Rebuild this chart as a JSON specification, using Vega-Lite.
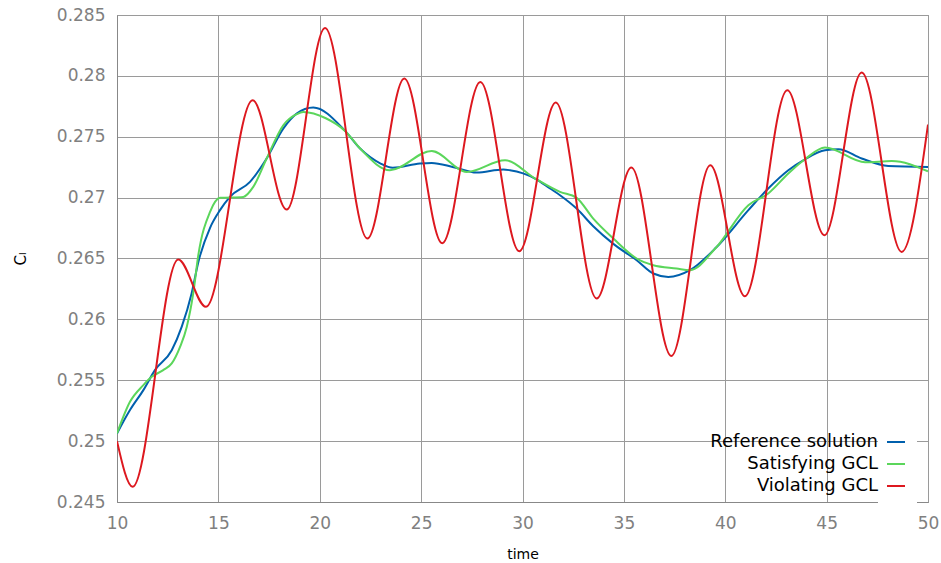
{
  "$schema": "https://vega.github.io/schema/vega-lite/v6.json",
  "autosize": {"type": "none"},
  "padding": {"left": 117, "top": 15, "right": 13, "bottom": 61},
  "width": 811,
  "height": 487,
  "background": "white",
  "config": {
    "font": "DejaVu Sans",
    "view": {"stroke": "#888888", "strokeWidth": 1},
    "axis": {
      "labelFont": "DejaVu Sans",
      "labelFontSize": 17,
      "labelColor": "#808080",
      "domainColor": "#888888",
      "gridColor": "#9a9a9a",
      "gridWidth": 1,
      "ticks": false,
      "titleFont": "DejaVu Sans",
      "titleFontWeight": "normal",
      "titleColor": "#000000",
      "titleFontSize": 14
    }
  },
  "data": {
    "values": [
      {"t": 10, "v": 0.25063, "s": "Reference solution"},
      {"t": 10.64, "v": 0.25255, "s": "Reference solution"},
      {"t": 11.3, "v": 0.25419, "s": "Reference solution"},
      {"t": 11.87, "v": 0.25583, "s": "Reference solution"},
      {"t": 12.7, "v": 0.25747, "s": "Reference solution"},
      {"t": 13.19, "v": 0.25938, "s": "Reference solution"},
      {"t": 13.68, "v": 0.26213, "s": "Reference solution"},
      {"t": 14.01, "v": 0.2647, "s": "Reference solution"},
      {"t": 14.59, "v": 0.26752, "s": "Reference solution"},
      {"t": 15.08, "v": 0.26897, "s": "Reference solution"},
      {"t": 15.57, "v": 0.27006, "s": "Reference solution"},
      {"t": 16.56, "v": 0.27129, "s": "Reference solution"},
      {"t": 17.38, "v": 0.27321, "s": "Reference solution"},
      {"t": 18.2, "v": 0.27567, "s": "Reference solution"},
      {"t": 18.86, "v": 0.2769, "s": "Reference solution"},
      {"t": 19.68, "v": 0.2774, "s": "Reference solution"},
      {"t": 21.25, "v": 0.27548, "s": "Reference solution"},
      {"t": 21.99, "v": 0.27403, "s": "Reference solution"},
      {"t": 23.0, "v": 0.2728, "s": "Reference solution"},
      {"t": 23.6, "v": 0.27245, "s": "Reference solution"},
      {"t": 24.94, "v": 0.2728, "s": "Reference solution"},
      {"t": 25.52, "v": 0.27285, "s": "Reference solution"},
      {"t": 26.6, "v": 0.2725, "s": "Reference solution"},
      {"t": 27.74, "v": 0.27206, "s": "Reference solution"},
      {"t": 29.05, "v": 0.27231, "s": "Reference solution"},
      {"t": 29.38, "v": 0.27225, "s": "Reference solution"},
      {"t": 30.62, "v": 0.27157, "s": "Reference solution"},
      {"t": 31.36, "v": 0.27075, "s": "Reference solution"},
      {"t": 31.85, "v": 0.2702, "s": "Reference solution"},
      {"t": 32.67, "v": 0.2691, "s": "Reference solution"},
      {"t": 33.49, "v": 0.26765, "s": "Reference solution"},
      {"t": 34.48, "v": 0.2662, "s": "Reference solution"},
      {"t": 35.63, "v": 0.26486, "s": "Reference solution"},
      {"t": 36.45, "v": 0.26377, "s": "Reference solution"},
      {"t": 37.19, "v": 0.26349, "s": "Reference solution"},
      {"t": 38.26, "v": 0.26404, "s": "Reference solution"},
      {"t": 39.55, "v": 0.2659, "s": "Reference solution"},
      {"t": 41.14, "v": 0.26897, "s": "Reference solution"},
      {"t": 42.12, "v": 0.27075, "s": "Reference solution"},
      {"t": 43.11, "v": 0.27225, "s": "Reference solution"},
      {"t": 43.93, "v": 0.27315, "s": "Reference solution"},
      {"t": 44.92, "v": 0.27389, "s": "Reference solution"},
      {"t": 45.58, "v": 0.27397, "s": "Reference solution"},
      {"t": 46.73, "v": 0.27321, "s": "Reference solution"},
      {"t": 48.04, "v": 0.2726, "s": "Reference solution"},
      {"t": 50, "v": 0.27252, "s": "Reference solution"},

      {"t": 10, "v": 0.25063, "s": "Satisfying GCL"},
      {"t": 10.64, "v": 0.25323, "s": "Satisfying GCL"},
      {"t": 11.3, "v": 0.2546, "s": "Satisfying GCL"},
      {"t": 11.71, "v": 0.25528, "s": "Satisfying GCL"},
      {"t": 12.28, "v": 0.25583, "s": "Satisfying GCL"},
      {"t": 12.7, "v": 0.25638, "s": "Satisfying GCL"},
      {"t": 13.11, "v": 0.25774, "s": "Satisfying GCL"},
      {"t": 13.44, "v": 0.25938, "s": "Satisfying GCL"},
      {"t": 13.76, "v": 0.26213, "s": "Satisfying GCL"},
      {"t": 14.01, "v": 0.26527, "s": "Satisfying GCL"},
      {"t": 14.59, "v": 0.26883, "s": "Satisfying GCL"},
      {"t": 15.08, "v": 0.26998, "s": "Satisfying GCL"},
      {"t": 16.23, "v": 0.27006, "s": "Satisfying GCL"},
      {"t": 16.72, "v": 0.27088, "s": "Satisfying GCL"},
      {"t": 17.38, "v": 0.27321, "s": "Satisfying GCL"},
      {"t": 18.2, "v": 0.27594, "s": "Satisfying GCL"},
      {"t": 18.86, "v": 0.27685, "s": "Satisfying GCL"},
      {"t": 19.19, "v": 0.27704, "s": "Satisfying GCL"},
      {"t": 20.3, "v": 0.27652, "s": "Satisfying GCL"},
      {"t": 21.25, "v": 0.27548, "s": "Satisfying GCL"},
      {"t": 21.99, "v": 0.27403, "s": "Satisfying GCL"},
      {"t": 23.46, "v": 0.27225, "s": "Satisfying GCL"},
      {"t": 25.52, "v": 0.27383, "s": "Satisfying GCL"},
      {"t": 27.25, "v": 0.27211, "s": "Satisfying GCL"},
      {"t": 29.14, "v": 0.27307, "s": "Satisfying GCL"},
      {"t": 30.62, "v": 0.27157, "s": "Satisfying GCL"},
      {"t": 31.85, "v": 0.27047, "s": "Satisfying GCL"},
      {"t": 32.67, "v": 0.26998, "s": "Satisfying GCL"},
      {"t": 33.49, "v": 0.26828, "s": "Satisfying GCL"},
      {"t": 34.48, "v": 0.26664, "s": "Satisfying GCL"},
      {"t": 35.63, "v": 0.265, "s": "Satisfying GCL"},
      {"t": 36.45, "v": 0.26445, "s": "Satisfying GCL"},
      {"t": 37.6, "v": 0.26418, "s": "Satisfying GCL"},
      {"t": 38.26, "v": 0.26404, "s": "Satisfying GCL"},
      {"t": 39.55, "v": 0.2659, "s": "Satisfying GCL"},
      {"t": 41.14, "v": 0.26938, "s": "Satisfying GCL"},
      {"t": 42.12, "v": 0.27034, "s": "Satisfying GCL"},
      {"t": 43.11, "v": 0.27198, "s": "Satisfying GCL"},
      {"t": 43.93, "v": 0.27315, "s": "Satisfying GCL"},
      {"t": 44.92, "v": 0.27411, "s": "Satisfying GCL"},
      {"t": 46.9, "v": 0.2729, "s": "Satisfying GCL"},
      {"t": 48.21, "v": 0.27301, "s": "Satisfying GCL"},
      {"t": 50, "v": 0.27216, "s": "Satisfying GCL"},

      {"t": 10, "v": 0.25, "s": "Violating GCL"},
      {"t": 10.77, "v": 0.24625, "s": "Violating GCL"},
      {"t": 13.02, "v": 0.26492, "s": "Violating GCL"},
      {"t": 14.39, "v": 0.26103, "s": "Violating GCL"},
      {"t": 16.69, "v": 0.278, "s": "Violating GCL"},
      {"t": 18.37, "v": 0.26902, "s": "Violating GCL"},
      {"t": 20.26, "v": 0.28393, "s": "Violating GCL"},
      {"t": 22.35, "v": 0.26664, "s": "Violating GCL"},
      {"t": 24.17, "v": 0.27978, "s": "Violating GCL"},
      {"t": 26.04, "v": 0.26626, "s": "Violating GCL"},
      {"t": 27.92, "v": 0.2795, "s": "Violating GCL"},
      {"t": 29.84, "v": 0.2656, "s": "Violating GCL"},
      {"t": 31.64, "v": 0.27781, "s": "Violating GCL"},
      {"t": 33.66, "v": 0.26172, "s": "Violating GCL"},
      {"t": 35.37, "v": 0.27247, "s": "Violating GCL"},
      {"t": 37.34, "v": 0.257, "s": "Violating GCL"},
      {"t": 39.26, "v": 0.27266, "s": "Violating GCL"},
      {"t": 40.97, "v": 0.2619, "s": "Violating GCL"},
      {"t": 43.06, "v": 0.27882, "s": "Violating GCL"},
      {"t": 44.89, "v": 0.26691, "s": "Violating GCL"},
      {"t": 46.73, "v": 0.28027, "s": "Violating GCL"},
      {"t": 48.7, "v": 0.26554, "s": "Violating GCL"},
      {"t": 50, "v": 0.276, "s": "Violating GCL"}
    ]
  },
  "mark": {"type": "line", "interpolate": "monotone", "strokeWidth": 2, "clip": true},
  "encoding": {
    "x": {
      "field": "t", "type": "quantitative",
      "scale": {"domain": [10, 50], "nice": false, "zero": false},
      "axis": {"title": "time", "values": [10, 15, 20, 25, 30, 35, 40, 45, 50], "labelPadding": 13, "titlePadding": 16, "labelFlush": false}
    },
    "y": {
      "field": "v", "type": "quantitative",
      "scale": {"domain": [0.245, 0.285], "nice": false, "zero": false},
      "axis": {"title": "Cₗ", "titleFontSize": 15, "values": [0.245, 0.25, 0.255, 0.26, 0.265, 0.27, 0.275, 0.28, 0.285], "format": ".3~f", "labelPadding": 12, "titlePadding": 28, "labelFlush": false}
    },
    "color": {
      "field": "s", "type": "nominal",
      "scale": {"domain": ["Reference solution", "Satisfying GCL", "Violating GCL"], "range": ["#0060ad", "#5bd65b", "#dd181f"]},
      "legend": {
        "title": null,
        "orient": "none",
        "legendX": 761,
        "legendY": 409,
        "fillColor": "white",
        "padding": 8,
        "symbolType": "stroke",
        "symbolSize": 324,
        "symbolStrokeWidth": 2,
        "labelFontSize": 18,
        "labelColor": "#000000",
        "labelAlign": "right",
        "labelOffset": -28,
        "rowPadding": 3,
        "labelLimit": 400
      }
    },
    "order": {"field": "t", "type": "quantitative"}
  }
}
